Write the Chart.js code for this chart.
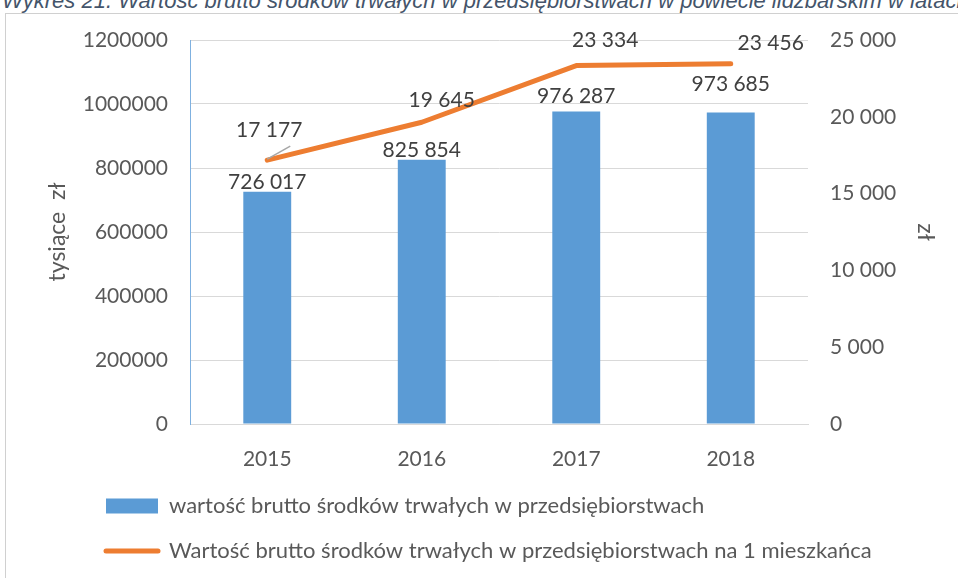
<!DOCTYPE html>
<html lang="pl">
<head>
<meta charset="utf-8">
<title>Wykres 21</title>
<script src="https://cdn.jsdelivr.net/npm/chart.js@4.4.1/dist/chart.umd.min.js"></script>
<style>
  html, body { margin: 0; padding: 0; background: #fff; overflow: hidden; }
  body { width: 958px; height: 578px; position: relative; }
  #caption {
    position: absolute; left: 2px; top: -10px; white-space: nowrap;
    font-family: "Liberation Sans Narrow", "Arial Narrow", "Liberation Sans", sans-serif;
    font-style: italic; font-size: 22px; line-height: 21px; color: #44546a;
  }
  #frame {
    position: absolute; left: 5px; top: 13px; width: 1000px; height: 600px;
    border: 1px solid #d0d0d0; box-sizing: border-box;
  }
  #wrap { position: absolute; left: 0; top: 0; width: 958px; height: 578px; }
</style>
</head>
<body>
<div id="caption">Wykres 21. Wartość brutto środków trwałych w przedsiębiorstwach w powiecie lidzbarskim w latach 2015-2018</div>
<div id="frame"></div>
<div id="wrap"><canvas id="chart"></canvas></div>
<script>
// data
const years = ['2015', '2016', '2017', '2018'];
const grossValue = [726017, 825854, 976287, 973685];        // tysiące zł
const grossPerResident = [17177, 19645, 23334, 23456];      // zł
const leftTicks = [0, 200000, 400000, 600000, 800000, 1000000, 1200000];
const rightTicks = [0, 5000, 10000, 15000, 20000, 25000];

const barName = 'wartość brutto środków trwałych w przedsiębiorstwach';
const lineName = 'Wartość brutto środków trwałych w przedsiębiorstwach na 1 mieszkańca';

// label nudges (px), kept apart from the values
const barLabelLift = [9, 9, 15, 28];
const lineLabelShift = [[2, -30], [20, -22], [29, -25], [40, -20]];

const blue = '#5b9bd5';
const orange = '#ed7d31';
const textGrey = '#595959';
const font = { family: 'Lato', size: 21 };
const legendFont = { family: 'Lato', size: 22 };
const titleFont = { family: 'Lato', size: 23 };

function spaced(n) {
    return String(n).replace(/\B(?=(\d{3})+(?!\d))/g, ' ');
}

const valueLabels = {
    id: 'valueLabels',
    afterDatasetsDraw(chart) {
        const ctx = chart.ctx;
        ctx.save();
        ctx.font = '21px Lato';
        ctx.fillStyle = '#404040';
        ctx.textAlign = 'center';
        ctx.textBaseline = 'middle';

        chart.getDatasetMeta(0).data.forEach((bar, i) => {
            ctx.fillText(spaced(grossValue[i]), bar.x, bar.y - barLabelLift[i]);
        });

        chart.getDatasetMeta(1).data.forEach((pt, i) => {
            const [dx, dy] = lineLabelShift[i];
            ctx.fillText(spaced(grossPerResident[i]), pt.x + dx, pt.y + dy);
            if (i === 0) {
                ctx.strokeStyle = '#a6a6a6';
                ctx.lineWidth = 1.5;
                ctx.beginPath();
                ctx.moveTo(pt.x, pt.y - 1);
                ctx.lineTo(pt.x + 23, pt.y - 14);
                ctx.stroke();
            }
        });
        ctx.restore();
    }
};

const legendShift = {
    id: 'legendShift',
    afterLayout(chart) {
        chart.legend.left = 83;
        chart.legend.top += 2;
    }
};

new Chart(document.getElementById('chart'), {
    data: {
        labels: years,
        datasets: [{
            type: 'bar',
            label: barName,
            data: grossValue,
            backgroundColor: blue,
            yAxisID: 'y',
            barPercentage: 0.31,
            categoryPercentage: 1,
            order: 2
        }, {
            type: 'line',
            label: lineName,
            data: grossPerResident,
            borderColor: orange,
            backgroundColor: orange,
            borderWidth: 5,
            borderCapStyle: 'round',
            borderJoinStyle: 'round',
            pointRadius: 0,
            tension: 0,
            yAxisID: 'y1',
            order: 1
        }]
    },
    options: {
        responsive: true,
        maintainAspectRatio: false,
        animation: false,
        layout: { padding: { top: 40, bottom: 8, left: 0, right: 0 } },
        plugins: {
            tooltip: { enabled: false },
            legend: {
                position: 'bottom',
                align: 'start',
                labels: {
                    font: legendFont,
                    color: textGrey,
                    padding: 23,
                    usePointStyle: true,
                    pointStyleWidth: 52,
                    boxHeight: 15,
                    generateLabels(chart) {
                        return chart.data.datasets.map((ds, i) => ({
                            text: ds.label,
                            fillStyle: ds.type === 'bar' ? ds.backgroundColor : orange,
                            strokeStyle: ds.type === 'bar' ? ds.backgroundColor : orange,
                            lineWidth: ds.type === 'bar' ? 0 : 5,
                            lineCap: 'round',
                            pointStyle: ds.type === 'bar' ? 'rect' : 'line',
                            fontColor: textGrey,
                            datasetIndex: i
                        }));
                    }
                }
            }
        },
        scales: {
            x: {
                grid: { display: false },
                border: { color: '#d9d9d9' },
                ticks: { font: font, color: textGrey, padding: 15 },
                afterFit(scale) { scale.height = 46; }
            },
            y: {
                position: 'left',
                min: 0,
                max: 1200000,
                afterBuildTicks(scale) { scale.ticks = leftTicks.map(v => ({ value: v })); },
                grid: { color: '#d9d9d9', drawTicks: false },
                border: { color: '#7fb1e0' },
                ticks: { font: font, color: textGrey, padding: 22, callback: v => String(v) },
                title: { display: true, text: 'tysiące  zł', font: titleFont, color: textGrey, padding: { top: 44, bottom: 0 } },
                afterFit(scale) { scale.width = 190; }
            },
            y1: {
                position: 'right',
                min: 0,
                max: 25000,
                afterBuildTicks(scale) { scale.ticks = rightTicks.map(v => ({ value: v })); },
                grid: { display: false, drawTicks: false, tickLength: 0 },
                border: { display: false },
                ticks: { font: font, color: textGrey, padding: 22, callback: v => spaced(v) },
                title: { display: true, text: 'zł', font: titleFont, color: textGrey, padding: { top: 19, bottom: 0 } },
                afterFit(scale) { scale.width = 150; }
            }
        }
    },
    plugins: [valueLabels, legendShift]
});
</script>
</body>
</html>
